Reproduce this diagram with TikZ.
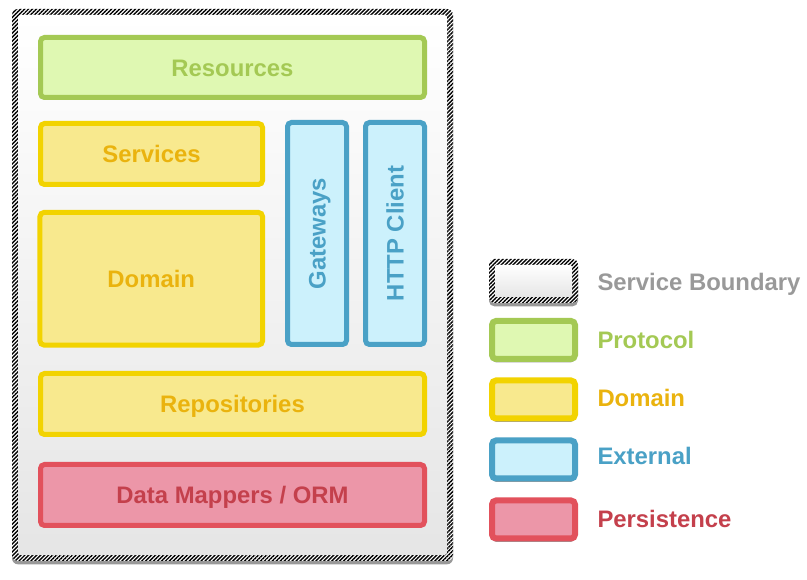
\documentclass[tikz,border=0pt]{standalone}
\usepackage{fontspec}
\setmainfont{Liberation Sans}
\usetikzlibrary{shadows,patterns.meta}

\definecolor{protoline}{RGB}{164,201,84}
\definecolor{protofill}{RGB}{223,248,178}
\definecolor{domline}{RGB}{242,211,0}
\definecolor{domfill}{RGB}{248,233,142}
\definecolor{domtext}{RGB}{234,179,14}
\definecolor{extline}{RGB}{74,161,198}
\definecolor{extfill}{RGB}{204,241,252}
\definecolor{persline}{RGB}{226,81,92}
\definecolor{persfill}{RGB}{236,150,168}
\definecolor{perstext}{RGB}{196,64,76}
\definecolor{boundtext}{RGB}{153,153,153}

\tikzset{every picture/.style={line width=0.75pt}}
\tikzset{
  layer/.style={rounded corners=3pt, line width=3.75pt, inner sep=0pt, text height=13pt, text depth=0pt,
    font=\fontsize{17.9}{20}\selectfont\bfseries},
  protolayer/.style={layer, draw=protoline, fill=protofill, text=protoline},
  domainlayer/.style={layer, draw=domline, fill=domfill, text=domtext},
  extlayer/.style={layer, draw=extline, fill=extfill, text=extline},
  perslayer/.style={layer, draw=persline, fill=persfill, text=perstext},
  hatch/.style={fill=white, postaction={pattern={Lines[angle=45,distance=2.1pt,line width=1.05pt]}}, inner sep=0pt},
  panel/.style={top color=white, bottom color=black!10, inner sep=0pt},
  keyshadow/.style={drop shadow={shadow xshift=0pt, shadow yshift=-2.5pt, opacity=0.4, fill=black}},
  keybox/.style={minimum width=62.25pt, minimum height=28.5pt, line width=4.5pt, keyshadow},
  keytext/.style={anchor=west, inner sep=0pt, text height=13pt, text depth=0pt, font=\fontsize{17.9}{20}\selectfont\bfseries}
}

\begin{document}
\begin{tikzpicture}[x=0.75pt,y=0.75pt,yscale=-1,xscale=1]
	\useasboundingbox [fill=white] (0,0) rectangle (807,580);

	%Service boundary
	\node [hatch, keyshadow, rounded corners=4.5pt, minimum width=330.75pt, minimum height=414pt] (boundary) at (232.5,285) {};
	\node [panel, rounded corners=2pt, minimum width=321.75pt, minimum height=405pt] (inside) at (boundary.center) {};

	%Layers
	\node [protolayer, minimum width=288pt, minimum height=45pt] (resources) at (232.5,67.5) {Resources};
	\node [domainlayer, minimum width=166.5pt, minimum height=45.75pt] (services) at (151.5,154) {Services};
	\node [domainlayer, minimum width=166.9pt, minimum height=99.4pt] (domainbox) at (151.25,278.75) {Domain};
	\node [extlayer, rotate=90, minimum width=166.5pt, minimum height=44.25pt] (gateways) at (317,233.5) {Gateways};
	\node [extlayer, rotate=90, minimum width=166.5pt, minimum height=44.25pt] (httpclient) at (395,233.5) {HTTP Client};
	\node [domainlayer, minimum width=288pt, minimum height=45.75pt] (repositories) at (232.5,404) {Repositories};
	\node [perslayer, minimum width=288pt, minimum height=45.75pt] (mappers) at (232.5,495) {Data Mappers / ORM};

	%Legend
	\node [hatch, keyshadow, rounded corners=4pt, minimum width=66.75pt, minimum height=33pt] (keyboundary) at (533.5,281) {};
	\node [panel, rounded corners=1.5pt, minimum width=57.75pt, minimum height=24pt] (keyinside) at (keyboundary.center) {};
	\node [protolayer, keybox] (keyprotocol) at (533.5,340) {};
	\node [domainlayer, keybox] (keydomain) at (533.5,399.5) {};
	\node [extlayer, keybox] (keyexternal) at (533.5,459.5) {};
	\node [perslayer, keybox] (keypersistence) at (533.5,519.5) {};

	\node [keytext, text=boundtext] (lblboundary) at (597,282) {Service Boundary};
	\node [keytext, text=protoline] (lblprotocol) at (597,340) {Protocol};
	\node [keytext, text=domtext] (lbldomain) at (597,398) {Domain};
	\node [keytext, text=extline] (lblexternal) at (597,456) {External};
	\node [keytext, text=perstext] (lblpersistence) at (597,519) {Persistence};

\end{tikzpicture}
\end{document}
